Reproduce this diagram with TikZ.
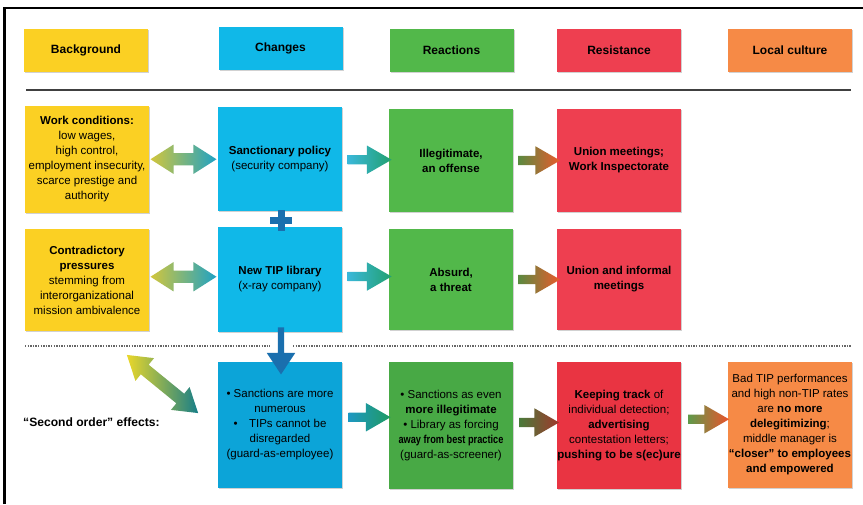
\documentclass[tikz,border=0pt]{standalone}
\usepackage{fontspec}
\setmainfont{Liberation Sans}
\usepackage{graphicx}
\usetikzlibrary{shapes.arrows,calc,shadows}
\definecolor{cyel}{HTML}{FBD023}
\definecolor{cblue}{HTML}{10B8E8}
\definecolor{cgreen}{HTML}{52B84A}
\definecolor{cred}{HTML}{EE3F50}
\definecolor{corange}{HTML}{F68A46}
\definecolor{cbluedk}{HTML}{0CA4D8}
\definecolor{cgreendk}{HTML}{48A945}
\definecolor{creddk}{HTML}{E93442}
\definecolor{cnavy}{HTML}{1A6FAE}
\definecolor{dblL}{HTML}{D2C63C}
\definecolor{dblR}{HTML}{1FA2C4}
\definecolor{caL}{HTML}{3AB8DA}
\definecolor{caR}{HTML}{22A070}
\definecolor{grL}{HTML}{5A8A40}
\definecolor{grR}{HTML}{EA5A2C}
\definecolor{c3L}{HTML}{1E98C2}
\definecolor{c3R}{HTML}{1F9A62}
\definecolor{g3L}{HTML}{4A7A3A}
\definecolor{g3R}{HTML}{A0382C}
\definecolor{r3L}{HTML}{5E9A4A}
\definecolor{r3R}{HTML}{EC532C}
\definecolor{diagL}{HTML}{EAD72A}
\definecolor{diagR}{HTML}{177E88}
\begin{document}
\begin{tikzpicture}[x=1pt,y=-1pt,
  sh/.style={drop shadow={shadow xshift=1pt,shadow yshift=-1pt,opacity=0.18,fill=black}},
  headbox/.style={rectangle, minimum width=124pt, minimum height=43pt, inner sep=0pt, font=\fontsize{12}{14}\selectfont\bfseries, sh},
  box/.style={rectangle, minimum width=124pt, inner sep=0pt, align=center, font=\fontsize{11.5}{15}\selectfont, sh},
  rarrow/.style={single arrow, draw=none, inner sep=4.5pt, single arrow head extend=9.5pt, single arrow tip angle=60, minimum height=#1},
  darrow/.style={double arrow, draw=none, inner sep=6pt, double arrow head extend=8.5pt, double arrow tip angle=65, minimum height=#1}]
\useasboundingbox (0,0) rectangle (863,504);
\fill[white] (0,0) rectangle (863,504);
% frame
\draw[line width=2.3pt] (4.5,504) -- (4.5,7.8) -- (863,7.8);
% header
\node[headbox, fill=cyel]    (hbg)  at (86,50.5)   {Background};
\node[headbox, fill=cblue]   (hch)  at (280.5,48)  {Changes};
\node[headbox, fill=cgreen]  (hre)  at (451.5,50.5){Reactions};
\node[headbox, fill=cred]    (hrs)  at (619,50.5)  {Resistance};
\node[headbox, fill=corange] (hlc)  at (790,50.5)  {Local culture};
\draw[line width=2pt, black!75] (26,89.5) -- (851,89.5);
% row 1
\node[box, fill=cyel, minimum height=107pt] (bg1) at (87,159.5)
  {\textbf{Work conditions:}\\low wages,\\high control,\\employment insecurity,\\scarce prestige and\\authority};
\node[box, fill=cblue, minimum height=104pt] (ch1) at (280,159)
  {\textbf{Sanctionary policy}\\(security company)};
\node[box, fill=cgreen, minimum height=103pt] (re1) at (451,160.5)
  {\textbf{Illegitimate,}\\\textbf{an offense}};
\node[box, fill=cred, minimum height=103pt] (rs1) at (619,160.5)
  {\textbf{Union meetings;}\\\textbf{Work Inspectorate}};
% row 2
\node[box, fill=cyel, minimum height=102pt] (bg2) at (87,280)
  {\textbf{Contradictory}\\\textbf{pressures}\\stemming from\\interorganizational\\mission ambivalence};
\node[box, fill=cblue, minimum height=105pt] (ch2) at (280,279.5)
  {\textbf{New TIP library}\\(x-ray company)};
\node[box, fill=cgreen, minimum height=101pt] (re2) at (451,279.5)
  {\textbf{Absurd,}\\\textbf{a threat}};
\node[box, fill=cred, minimum height=101pt] (rs2) at (619,279.5)
  {\textbf{Union and informal}\\\textbf{meetings}};
% plus
\fill[cnavy] (270,216.5) rectangle (292,223.5);
\fill[cnavy] (277.5,209.5) rectangle (284.5,230.5);
% dashed separator
\coordinate (dl1) at (25,346);
\coordinate (dl2) at (270,346);
\coordinate (dl3) at (293,346);
\coordinate (dl4) at (851,346);
\draw[black!60, line width=1.4pt, dash pattern=on 1.4pt off 1.2pt] (dl1) -- (dl2);
\draw[black!60, line width=1.4pt, dash pattern=on 1.4pt off 1.2pt] (dl3) -- (dl4);
% row 3
\node[font=\fontsize{12.1}{14}\selectfont\bfseries, anchor=west, inner sep=0pt] (soe) at (23,422) {“Second order” effects:};
\node[box, fill=cbluedk, minimum height=126pt] (ch3) at (280,425)
  {• Sanctions are more\\numerous\\•\quad TIPs cannot be\\disregarded\\(guard-as-employee)};
\node[box, fill=cgreendk, minimum height=127pt] (re3) at (451,425.5)
  {• Sanctions as even\\\textbf{more illegitimate}\\• Library as forcing\\\textbf{\scalebox{0.8}[1]{away from best practice}}\\(guard-as-screener)};
\node[box, fill=creddk, minimum height=127pt] (rs3) at (619,425.5)
  {\textbf{Keeping track} of\\individual detection;\\\textbf{advertising}\\contestation letters;\\\textbf{pushing to be s(ec)ure}};
\node[box, fill=corange, minimum height=126pt] (lc3) at (790,425)
  {Bad TIP performances\\and high non-TIP rates\\are \textbf{no more}\\\textbf{delegitimizing};\\middle manager is\\\textbf{“closer” to employees}\\\textbf{and empowered}};
% arrows row 1
\node[darrow=66pt, left color=dblL, right color=dblR] (da1) at ($(bg1.east)!0.5!(ch1.west)$) {};
\node[rarrow=44pt, left color=caL, right color=caR] (a11) at ($(ch1.east)!0.5!(re1.west)$) {};
\node[rarrow=42pt, left color=grL, right color=grR] (a12) at ($(re1.east)!0.5!(rs1.west)$) {};
% arrows row 2
\node[darrow=66pt, left color=dblL, right color=dblR] (da2) at ($(bg2.east)!0.5!(ch2.west)+(0,-3)$) {};
\node[rarrow=44pt, left color=caL, right color=caR] (a21) at ($(ch2.east)!0.5!(re2.west)+(0,-3)$) {};
\node[rarrow=42pt, left color=grL, right color=grR] (a22) at ($(re2.east)!0.5!(rs2.west)$) {};
% down arrow
\node[single arrow, draw=none, fill=cnavy, shape border rotate=270, inner sep=3pt, single arrow head extend=11pt, single arrow tip angle=67, minimum height=47pt] (dn) at (281,348.5) {};
% diagonal arrow
\node[darrow=92pt, rotate=-39.2, left color=diagL, right color=diagR] (dd) at (162.5,384) {};
% arrows row 3
\node[rarrow=42pt, left color=c3L, right color=c3R] (a31) at ($(ch3.east)!0.5!(re3.west)+(0,-8)$) {};
\node[rarrow=40pt, left color=g3L, right color=g3R] (a32) at ($(re3.east)!0.5!(rs3.west)+(0,-3)$) {};
\node[rarrow=41pt, left color=r3L, right color=r3R] (a33) at ($(rs3.east)!0.5!(lc3.west)+(0,-6)$) {};
\end{tikzpicture}
\end{document}
